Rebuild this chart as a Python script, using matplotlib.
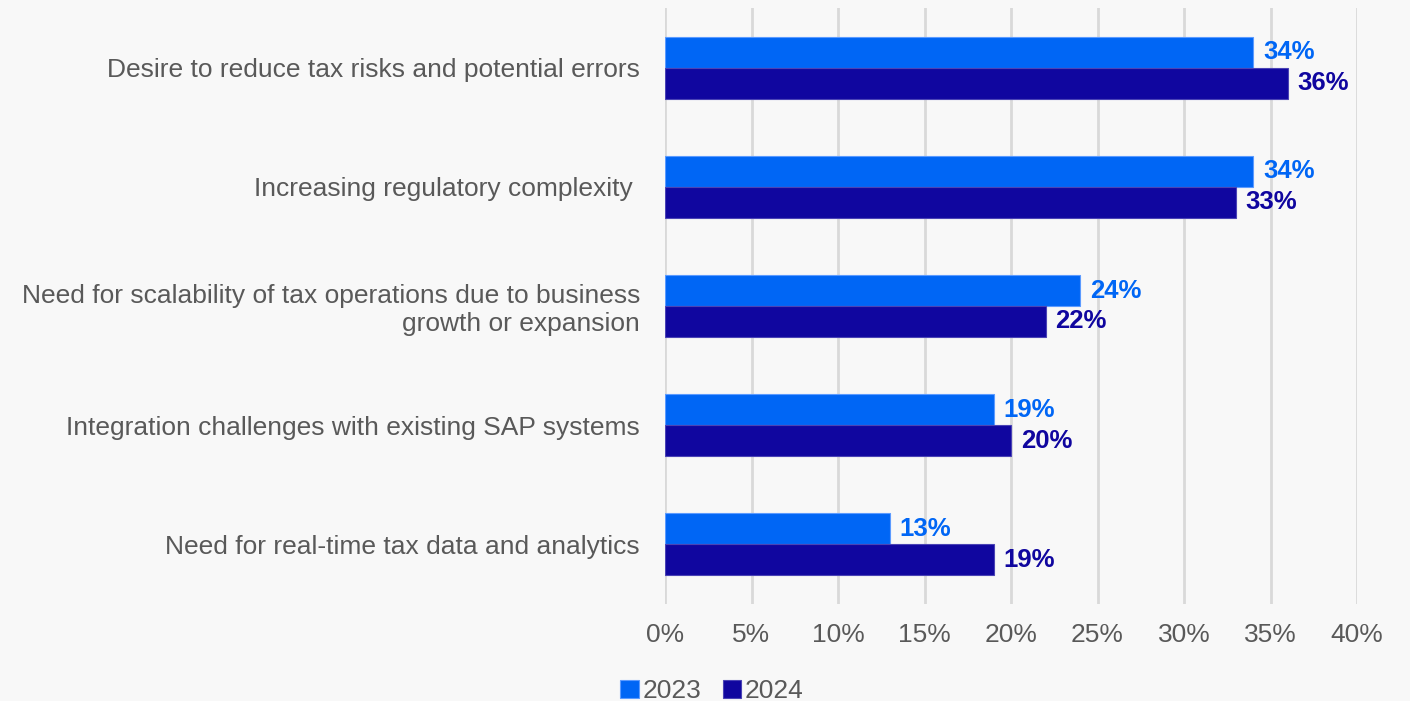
import matplotlib.pyplot as plt
import numpy as np

plt.rcParams['font.family'] = ['Liberation Sans', 'DejaVu Sans']

categories = [
    "Desire to reduce tax risks and potential errors",
    "Increasing regulatory complexity ",
    "Need for scalability of tax operations due to business\ngrowth or expansion",
    "Integration challenges with existing SAP systems",
    "Need for real-time tax data and analytics",
]
vals_2023 = [34, 34, 24, 19, 13]
vals_2024 = [36, 33, 22, 20, 19]
xticks = [0, 5, 10, 15, 20, 25, 30, 35, 40]

c2023 = "#0066F5"
c2024 = "#10069F"
txt = "#595959"
bg = "#F8F8F8"

fig = plt.figure(figsize=(14.1, 7.01), dpi=100, facecolor=bg)
ax = fig.add_axes([665 / 1410, 1 - 604 / 701, (1357 - 665) / 1410, (604 - 8) / 701])
ax.set_facecolor(bg)

y = np.arange(len(categories))[::-1]
h = 0.26
b1 = ax.barh(y + h / 2, vals_2023, height=h, color=c2023, edgecolor="#5C9BFF", linewidth=0.8, label="2023", zorder=3)
b2 = ax.barh(y - h / 2, vals_2024, height=h, color=c2024, edgecolor="#4A43B5", linewidth=0.8, label="2024", zorder=3)

for bars, vals, col in [(b1, vals_2023, c2023), (b2, vals_2024, c2024)]:
    for bar, v in zip(bars, vals):
        ax.annotate(f"{v}%", (v, bar.get_y() + bar.get_height() / 2),
                    xytext=(7, 0), textcoords="offset points",
                    va="center", ha="left", fontsize=18.5, fontweight="bold", color=col)

ax.set_xlim(0, 40)
ax.set_ylim(-0.5, len(categories) - 0.5)
ax.set_xticks(xticks)
ax.set_xticklabels([f"{t}%" for t in xticks], fontsize=19, color=txt)
ax.set_yticks(y)
ax.set_yticklabels(categories, fontsize=19, color=txt)
ax.tick_params(axis="y", length=0, pad=18)
ax.tick_params(axis="x", length=0, pad=14)
ax.grid(axis="x", color="#D9D9D9", linewidth=2, zorder=0)
for s in ax.spines.values():
    s.set_visible(False)

fig.legend(handles=[b1, b2], loc="center", bbox_to_anchor=(712 / 1410, 1 - 691 / 701),
           ncol=2, frameon=False, fontsize=19, labelcolor=txt,
           handlelength=0.7, handleheight=0.7, handletextpad=0.15, columnspacing=0.8)

fig.savefig("out.png", dpi=100, facecolor=bg)
